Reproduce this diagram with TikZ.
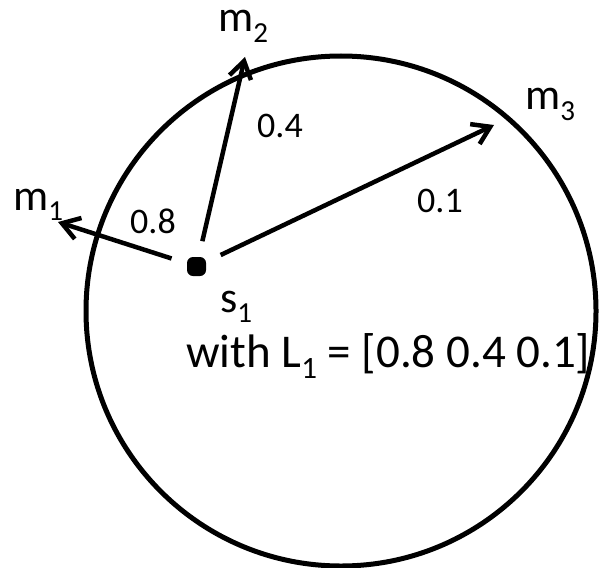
\documentclass[tikz,border=0pt]{standalone}
\usepackage{fontspec}
\setmainfont{Carlito}
\usetikzlibrary{arrows.meta, positioning}
\tikzset{
	bigtext/.style={font=\fontsize{44}{48}\selectfont, inner sep=0pt}
}
\tikzset{
	weighttext/.style={font=\fontsize{36}{40}\selectfont, inner sep=0pt}
}
\newcommand{\lowsub}[1]{\raisebox{-0.24em}{\scalebox{0.66}{#1}}}

\begin{document}
\begin{tikzpicture}[x=1pt, y=-1pt]
			\tikzset{
				dotnode/.style={
						shape=rectangle,
						rounded corners=6pt,
						fill=black,
						minimum size=19pt,
						inner sep=0pt
					},
				vecarrow/.style={
						line width=4.5pt,
						-{Straight Barb[length=17pt, width=22pt]},
						shorten <=16pt
					}
			}
			\useasboundingbox (0,0) rectangle (601,567);

			\coordinate (c) at (341,311);
			\draw[line width=5pt] (c) circle (255);

			\node[dotnode] (s1) at (196.5,266.5) {};
			\coordinate (t1) at (58,222);
			\coordinate (t2) at (245,57);
			\coordinate (t3) at (494,125);

			\draw[vecarrow] (s1) -- (t1);
			\draw[vecarrow] (s1) -- (t2);
			\draw[vecarrow] (s1) -- (t3);

			\node[bigtext, anchor=base west] (m1) at (13,210) {m\lowsub{1}};
			\node[bigtext, anchor=base west] (m2) at (218,32) {m\lowsub{2}};
			\node[bigtext, anchor=base west] (m3) at (525,110) {m\lowsub{3}};

			\node[weighttext, anchor=base west] (w1) at (130,233) {0.8};
			\node[weighttext, anchor=base west] (w2) at (257,137) {0.4};
			\node[weighttext, anchor=base west] (w3) at (417,212) {0.1};

			\node[bigtext, anchor=base west] (s1name) at (220,312) {s\lowsub{1}};
			\node[bigtext, font=\fontsize{47}{52}\selectfont, anchor=base west] (listL) at (186,367) {with L\lowsub{1} = [0.8 0.4 0.1]};
		\end{tikzpicture}
\end{document}
